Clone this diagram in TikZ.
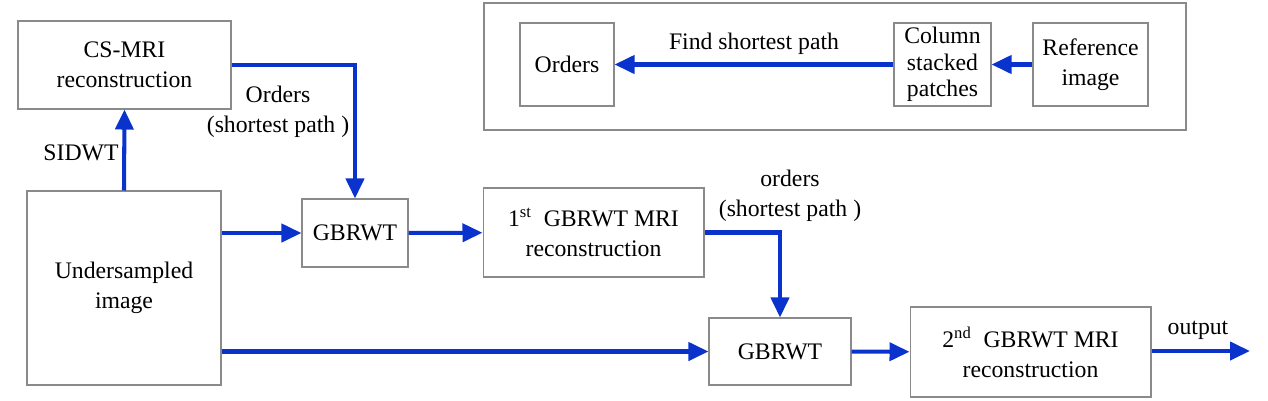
\documentclass[tikz,border=0pt]{standalone}
\usepackage{fontspec}
\setmainfont{Liberation Serif}
\usetikzlibrary{arrows.meta,positioning}
\definecolor{mrblue}{HTML}{0A32CC}
\definecolor{mrgray}{HTML}{8A8A8A}

\begin{document}
\begin{tikzpicture}[x=0.02cm,y=-0.02cm,
 font=\fontsize{13.5}{17}\selectfont,
 flowbox/.style={draw=mrgray,line width=0.6pt,align=center,inner sep=2pt},
 flowarrow/.style={-{Triangle[length=4mm,width=3.6mm]},line width=2.3pt,draw=mrblue}
]
\useasboundingbox (0,0) rectangle (1268,400);
% main chain
\node[flowbox,minimum width=4.26cm,minimum height=1.76cm] (csmri) at (124.5,65) {CS-MRI\\reconstruction};
\node[flowbox,minimum width=3.88cm,minimum height=3.88cm] (under) at (124,288) {Undersampled\\image};
\node[flowbox,minimum width=2.12cm,minimum height=1.36cm] (gbone) at (355,233) {GBRWT};
\node[flowbox,minimum width=4.42cm,minimum height=1.78cm] (first) at (593.5,232.5) {1\textsuperscript{st}~ GBRWT MRI\\reconstruction};
\node[flowbox,minimum width=2.84cm,minimum height=1.34cm] (gbtwo) at (780,351.5) {GBRWT};
\node[flowbox,minimum width=4.82cm,minimum height=1.8cm] (second) at (1030.5,352) {2\textsuperscript{nd}~ GBRWT MRI\\reconstruction};
\coordinate (out) at (1250,351);
% order finding inset
\draw[mrgray,line width=0.6pt] (484,3) rectangle (1186,130);
\node[flowbox,minimum width=1.88cm,minimum height=1.66cm] (orders) at (567,64.5) {Orders};
\node[flowbox,minimum width=1.94cm,minimum height=1.66cm,inner sep=0pt,
  font=\fontsize{13.5}{15}\selectfont] (column) at (942.5,64.5) {Column\\stacked\\patches};
\node[flowbox,minimum width=2.3cm,minimum height=1.66cm] (refimg) at (1090.5,64.5) {Reference\\image};
% labels
\node (sidwt) at (81,153) {SIDWT};
\node[align=center] (ordlab) at (278,112) {Orders\\(shortest path )};
\node[align=center] (ordlabtwo) at (790,196) {orders\\(shortest path )};
\node (findlab) at (754,44) {Find shortest path};
\node (outlab) at (1198,330) {output};
% connectors
\draw[flowarrow] (under.north) -- (csmri.south);
\draw[flowarrow] (csmri.east) -| (gbone.north);
\draw[flowarrow] (under.east |- gbone.west) -- (gbone.west);
\draw[flowarrow] (gbone) -- (first);
\draw[flowarrow] (first.east) -| (gbtwo.north);
\draw[flowarrow] (under.east |- gbtwo.west) -- (gbtwo.west);
\draw[flowarrow] (gbtwo) -- (second);
\draw[flowarrow] (second.east |- out) -- (out);
\draw[flowarrow] (refimg) -- (column);
\draw[flowarrow] (column) -- (orders);
\end{tikzpicture}
\end{document}
